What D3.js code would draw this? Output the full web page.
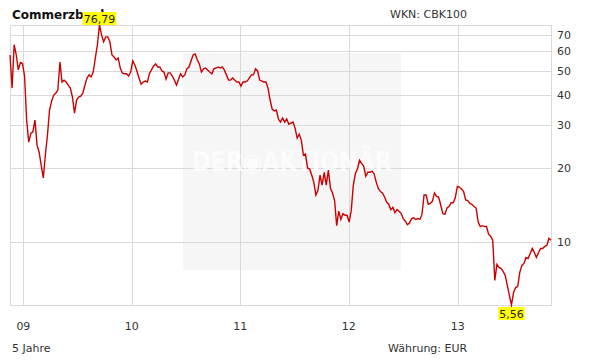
<!DOCTYPE html>
<html>
<head>
<meta charset="utf-8">
<script src="https://cdn.jsdelivr.net/npm/d3@7"></script>
<style>
  body { margin: 0; background: #fff; }
  svg { display: block; font-family: "DejaVu Sans", Verdana, sans-serif; }
</style>
</head>
<body>
<svg id="chart"></svg>
<script>
// weekly closes, first week starting 2008-11-17
var startDate = "2008-11-17";
var prices = [58.0, 42.5, 63.8, 58.0, 50.4, 54.0, 53.5, 47.6, 31.5, 25.6,
    27.8, 28.2, 31.5, 24.9, 23.3, 20.6, 18.3, 22.7, 27.3, 34.6,
    37.6, 39.8, 40.5, 41.7, 54.3, 45.0, 45.8, 45.0, 43.7, 42.5,
    39.1, 33.6, 38.0, 39.1, 39.4, 40.5, 43.7, 46.7, 48.1, 47.2,
    49.4, 56.3, 63.8, 76.79, 70.0, 65.6, 68.7, 68.7, 65.6, 58.0,
    56.9, 55.3, 56.3, 51.3, 49.0, 48.6, 48.6, 47.6, 49.4, 54.8,
    52.8, 49.9, 46.7, 44.1, 45.0, 45.4, 45.0, 48.6, 50.4, 52.3,
    53.3, 51.8, 51.8, 49.9, 49.4, 46.2, 49.0, 49.0, 47.6, 45.8,
    43.7, 46.2, 48.6, 47.2, 48.1, 50.9, 51.8, 54.8, 58.0, 58.5,
    55.3, 53.3, 49.4, 50.9, 51.3, 50.4, 49.4, 48.6, 50.9, 51.3,
    51.8, 51.3, 51.8, 50.4, 48.1, 45.8, 45.8, 46.7, 45.8, 45.0,
    45.0, 43.3, 45.0, 45.0, 45.4, 46.7, 48.1, 48.1, 50.9, 49.9,
    45.8, 45.4, 45.0, 45.0, 42.5, 38.0, 34.9, 34.3, 34.6, 31.8,
    30.9, 32.1, 30.9, 31.8, 30.3, 30.6, 30.9, 29.2, 26.6, 27.6,
    26.1, 22.7, 22.9, 20.1, 19.9, 18.8, 17.6, 15.6, 16.3, 18.8,
    17.1, 19.3, 17.1, 19.7, 16.6, 15.9, 14.8, 11.7, 13.4, 12.4,
    13.1, 12.9, 12.9, 12.1, 13.5, 17.1, 19.1, 19.9, 21.6, 21.0,
    20.4, 18.6, 19.3, 19.3, 19.5, 19.0, 17.6, 16.6, 16.1, 15.9,
    15.3, 14.6, 14.3, 13.6, 13.9, 13.2, 13.6, 13.4, 13.1, 12.5,
    12.2, 11.8, 12.0, 12.5, 12.6, 12.4, 12.5, 12.4, 13.0, 15.6,
    15.6, 14.3, 14.4, 14.7, 15.9, 15.4, 15.3, 14.2, 13.1, 13.0,
    13.8, 14.0, 14.5, 14.5, 15.2, 16.9, 16.8, 16.5, 16.1, 14.9,
    14.8, 14.4, 14.3, 14.0, 13.8, 12.1, 11.6, 11.7, 11.6, 11.6,
    10.8, 10.6, 10.2, 7.0, 8.14, 7.91, 7.84, 7.62, 7.34, 6.68,
    6.08, 5.56, 6.25, 6.55, 6.61, 7.55, 8.06, 8.21, 8.68, 8.60,
    9.02, 9.45, 9.10, 8.68, 9.10, 9.45, 9.45, 9.63, 9.72, 10.4,
    10.2];
var yTicks = [10, 20, 30, 40, 50, 60, 70];
var title = "Commerzbank";
var wkn = "WKN: CBK100";
var period = "5 Jahre";
var currency = "Währung: EUR";

var dimensions = {
    width: 611,
    height: 364,
    plot: { left: 10, right: 551, top: 25, bottom: 305 }
};

var svg = d3.select("#chart")
    .attr("width", dimensions.width)
    .attr("height", dimensions.height);

var parse = d3.timeParse("%Y-%m-%d");
var t0 = parse(startDate);
var data = prices.map((p, i) => ({ date: d3.timeDay.offset(t0, i * 7), value: p }));

var xScale = d3.scaleTime()
    .domain(d3.extent(data, d => d.date))
    .range([dimensions.plot.left, dimensions.plot.right]);

var yScale = d3.scaleLog()
    .domain(d3.extent(data, d => d.value))
    .range([dimensions.plot.bottom, dimensions.plot.top]);

var gridColor = "#d9d9d9";
var textColor = "#333";

// watermark box
svg.append("rect")
    .attr("x", 183).attr("y", 53)
    .attr("width", 218).attr("height", 217)
    .attr("fill", "#f6f6f6");

// horizontal grid
svg.append("g")
    .selectAll("line")
    .data(yTicks)
    .join("line")
    .attr("x1", dimensions.plot.left)
    .attr("x2", dimensions.plot.right)
    .attr("y1", d => Math.round(yScale(d)) + 0.5)
    .attr("y2", d => Math.round(yScale(d)) + 0.5)
    .attr("stroke", gridColor);

// vertical grid at year starts
var years = d3.timeYear.range(xScale.domain()[0], xScale.domain()[1]);
svg.append("g")
    .selectAll("line")
    .data(years)
    .join("line")
    .attr("x1", d => Math.round(xScale(d)) + 0.5)
    .attr("x2", d => Math.round(xScale(d)) + 0.5)
    .attr("y1", dimensions.plot.top)
    .attr("y2", dimensions.plot.bottom)
    .attr("stroke", gridColor);

// frame
svg.append("rect")
    .attr("x", dimensions.plot.left + 0.5)
    .attr("y", dimensions.plot.top + 0.5)
    .attr("width", dimensions.plot.right - dimensions.plot.left)
    .attr("height", dimensions.plot.bottom - dimensions.plot.top)
    .attr("fill", "none")
    .attr("stroke", gridColor);

// watermark text
svg.append("text")
    .attr("x", 292).attr("y", 171)
    .attr("text-anchor", "middle")
    .attr("font-size", 26)
    .attr("font-weight", "bold")
    .attr("fill", "#ffffff")
    .attr("fill-opacity", 0.75)
    .attr("textLength", 200)
    .attr("lengthAdjust", "spacingAndGlyphs")
    .text("DER◉AKTIONÄR");

// price line
svg.append("path")
    .datum(data)
    .attr("fill", "none")
    .attr("stroke", "#cc0000")
    .attr("stroke-width", 1.4)
    .attr("stroke-linejoin", "miter")
    .attr("d", d3.line().x(d => xScale(d.date)).y(d => yScale(d.value)));

// right axis labels
svg.append("g")
    .selectAll("text")
    .data(yTicks)
    .join("text")
    .attr("x", 557)
    .attr("y", d => yScale(d) + 4)
    .attr("font-size", 11)
    .attr("fill", textColor)
    .text(d => d);

// year labels
svg.append("g")
    .selectAll("text")
    .data(years)
    .join("text")
    .attr("x", d => xScale(d))
    .attr("y", 330)
    .attr("text-anchor", "middle")
    .attr("font-size", 11)
    .attr("fill", textColor)
    .text(d3.timeFormat("%y"));

// header and footer
svg.append("text")
    .attr("x", 12).attr("y", 19)
    .attr("font-size", 12)
    .attr("font-weight", "bold")
    .attr("fill", "#111")
    .text(title);

svg.append("text")
    .attr("x", 390).attr("y", 18)
    .attr("font-size", 11)
    .attr("fill", textColor)
    .text(wkn);

svg.append("text")
    .attr("x", 12).attr("y", 352)
    .attr("font-size", 11)
    .attr("fill", textColor)
    .text(period);

svg.append("text")
    .attr("x", 388).attr("y", 352)
    .attr("font-size", 11)
    .attr("fill", textColor)
    .text(currency);

// max / min badges (the max badge sits over the title, as in the original)
var maxPt = data.reduce((a, b) => (b.value > a.value ? b : a));
var minPt = data.reduce((a, b) => (b.value < a.value ? b : a));
var fmt = v => v.toFixed(2).replace(".", ",");

function badge(pt, above) {
    var cx = xScale(pt.date);
    var cy = yScale(pt.value);
    var g = svg.append("g");
    var label = g.append("text")
        .attr("x", cx)
        .attr("text-anchor", "middle")
        .attr("font-size", 11)
        .attr("fill", "#222")
        .text(fmt(pt.value));
    var w = label.node().getComputedTextLength() + 2;
    var top = above ? cy - 13 : cy + 2;
    if (!above) {
        g.append("line")
            .attr("x1", cx).attr("x2", cx)
            .attr("y1", cy - 2).attr("y2", top)
            .attr("stroke", "#cc0000");
    }
    g.insert("rect", "text")
        .attr("x", cx - w / 2)
        .attr("y", top)
        .attr("width", w)
        .attr("height", 13)
        .attr("fill", "#ffff00");
    label.attr("y", top + 10.5);
}
badge(maxPt, true);
badge(minPt, false);
</script>
</body>
</html>
